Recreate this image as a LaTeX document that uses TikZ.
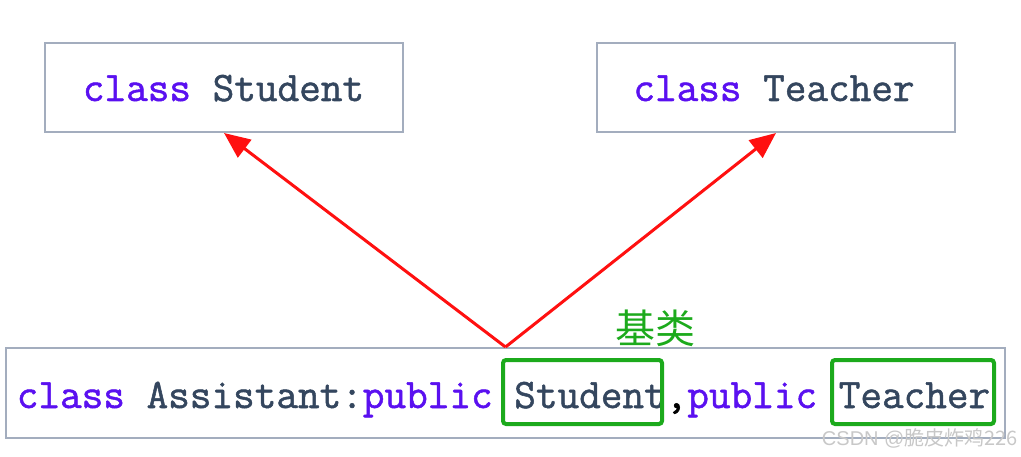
\documentclass[tikz,border=0pt]{standalone}
\usepackage{fontspec}
\newfontfamily\cjk{Noto Sans CJK SC}
\newfontfamily\wmfont{Liberation Sans}
\newfontfamily\codefont[FakeBold=1.2]{Latin Modern Mono}
\usetikzlibrary{arrows.meta}
\definecolor{kw}{HTML}{5A10F0}
\definecolor{ident}{HTML}{34465E}
\definecolor{boxline}{HTML}{A3ADBE}
\definecolor{hl}{HTML}{1CAA1C}
\definecolor{arr}{HTML}{FF1010}
\definecolor{wm}{HTML}{C8C8C8}
\newcommand{\kwd}[1]{\textcolor{kw}{#1}}
\newcommand{\idt}[1]{\textcolor{ident}{#1}}
\begin{document}
\begin{tikzpicture}[x=1pt,y=-1pt,
  classbox/.style={draw=boxline,line width=2pt,rectangle,inner sep=0pt},
  code/.style={font=\fontsize{42}{42}\selectfont\codefont,anchor=base,inner sep=0pt},
  hlbox/.style={draw=hl,line width=4pt,rounded corners=3pt,rectangle,inner sep=0pt},
  inherit/.style={draw=arr,line width=3pt,-{Triangle[length=26pt,width=22pt]}}]
\useasboundingbox (0,0) rectangle (1021,457);
\node[classbox,minimum width=358pt,minimum height=89pt] (stu) at (224,87.5) {};
\node[classbox,minimum width=358pt,minimum height=89pt] (tea) at (776,87.5) {};
\node[classbox,minimum width=999pt,minimum height=90pt] (asst) at (505.5,393) {};
\node[code] (stut) at (223.5,101) {\kwd{class} \idt{Student}};
\node[code] (teat) at (774,101) {\kwd{class} \idt{Teacher}};
\node[code] (asstt) at (503.5,408) {\kwd{class} \idt{Assistant:}\kwd{public} \idt{Student},\kwd{public} \idt{Teacher}};
\node[hlbox,minimum width=159pt,minimum height=64pt] (hs) at (582.5,392) {};
\node[hlbox,minimum width=162pt,minimum height=64pt] (ht) at (913,392) {};
\node[font=\fontsize{40}{40}\selectfont\cjk,text=hl,inner sep=0pt] (base) at (655,328) {基类};
\node[font=\fontsize{20}{20}\selectfont\wmfont,text=wm,inner sep=0pt,anchor=east] (mark) at (1018,438) {CSDN @\cjk 脆皮炸鸡226};
\draw[inherit] (asst.north) -- (stu.south);
\draw[inherit] (asst.north) -- (tea.south);
\end{tikzpicture}
\end{document}
